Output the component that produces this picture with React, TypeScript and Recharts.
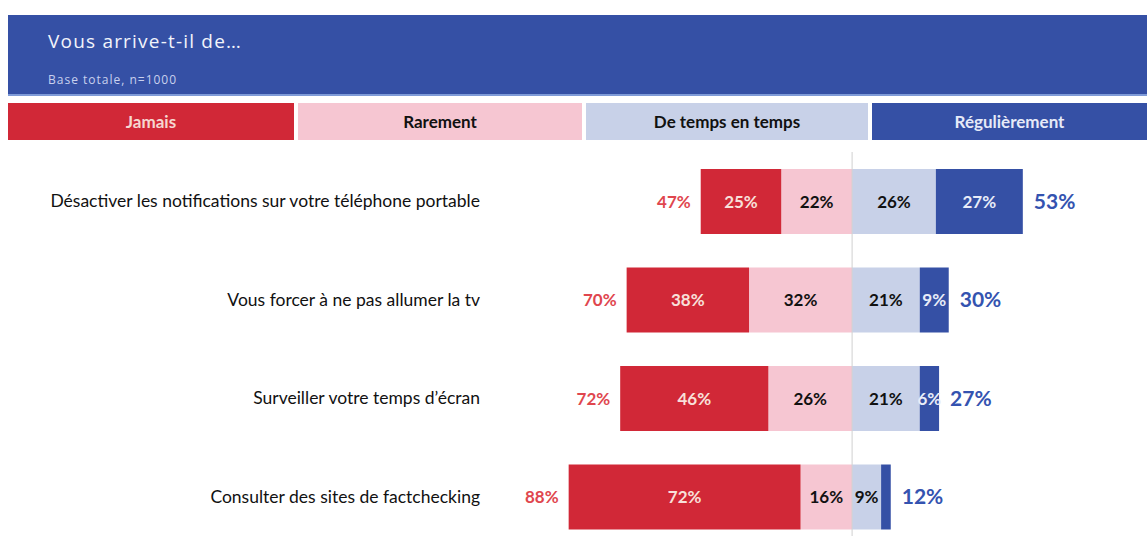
import React from 'react'
import { BarChart, Bar, XAxis, YAxis, ReferenceLine, LabelList } from 'recharts'

const categories = [
  'Désactiver les notifications sur votre téléphone portable',
  'Vous forcer à ne pas allumer la tv',
  'Surveiller votre temps d’écran',
  'Consulter des sites de factchecking',
]
const jamais = [25, 38, 46, 72]
const rarement = [22, 32, 26, 16]
const deTemps = [26, 21, 21, 9]
const regulierement = [27, 9, 6, 3]
const totalNon = [47, 70, 72, 88]
const totalOui = [53, 30, 27, 12]

const RED = '#D12837'
const PINK = '#F6C6D2'
const LIGHT = '#C8D1E8'
const BLUE = '#3550A5'

const legend = [
  { label: 'Jamais', bg: RED, fg: '#F6D7D0', w: 286 },
  { label: 'Rarement', bg: PINK, fg: '#111', w: 284 },
  { label: 'De temps en temps', bg: LIGHT, fg: '#111', w: 282 },
  { label: 'Régulièrement', bg: BLUE, fg: '#E6EAF8', w: 275 },
]

const data = categories.map((name, i) => ({
  name,
  jamais: -jamais[i],
  rarement: -rarement[i],
  deTemps: deTemps[i],
  regulierement: regulierement[i],
  totalNon: totalNon[i],
  totalOui: totalOui[i],
}))

const FONT = 'Lato, "Open Sans", sans-serif'

const inner = (color: string) => (props: any) => {
  const { x, y, width, height, value } = props
  const v = Math.abs(value)
  if (v < 4) return null
  return (
    <text x={x + width / 2} y={y + height / 2} dy={6} textAnchor="middle" fill={color}
      fontFamily={FONT} fontWeight={700} fontSize={17}>{`${v}%`}</text>
  )
}

const leftTotal = (props: any) => {
  const { x, y, width, height, index } = props
  const left = Math.min(x, x + width)
  return (
    <text x={left - 10} y={y + height / 2} dy={6} textAnchor="end" fill="#E0464E"
      fontFamily={FONT} fontWeight={700} fontSize={17}>{`${totalNon[index]}%`}</text>
  )
}

const rightTotal = (props: any) => {
  const { x, y, width, height, index } = props
  const right = Math.max(x, x + width)
  return (
    <text x={right + 11} y={y + height / 2} dy={7} textAnchor="start" fill="#3453B0"
      fontFamily={FONT} fontWeight={700} fontSize={21}>{`${totalOui[index]}%`}</text>
  )
}

export default function App() {
  return (
    <div style={{ position: 'absolute', left: 0, top: 0, width: 1147, height: 536, background: '#fff', overflow: 'hidden', fontFamily: FONT }}>
      <div style={{ position: 'absolute', left: 8, top: 15, width: 1139, height: 79, background: BLUE, borderBottom: '2px solid #7F9BD8' }}>
        <div style={{ position: 'absolute', left: 40, top: 13, color: '#F2F4FB', fontSize: 19, letterSpacing: 1.2, fontFamily: '"Open Sans", sans-serif' }}>
          Vous arrive-t-il de…
        </div>
        <div style={{ position: 'absolute', left: 40, top: 56, color: '#C9D1EE', fontSize: 12, letterSpacing: 1, fontFamily: '"Open Sans", sans-serif' }}>
          Base totale, n=1000
        </div>
      </div>
      <div style={{ position: 'absolute', left: 8, top: 103, width: 1139, height: 37, display: 'flex', gap: 4 }}>
        {legend.map((l) => (
          <div key={l.label} style={{ width: l.w, flex: 'none', background: l.bg, color: l.fg, display: 'flex', alignItems: 'center', justifyContent: 'center', fontWeight: 700, fontSize: 17 }}>
            {l.label}
          </div>
        ))}
      </div>
      <div style={{ position: 'absolute', left: 0, top: 150, width: 1147, height: 386, overflow: 'hidden' }}>
        <BarChart width={1147} height={396} data={data} layout="vertical" stackOffset="sign"
          margin={{ top: 2, right: 5, bottom: 0, left: 0 }} barSize={65}>
          <XAxis type="number" domain={[-100, 90]} hide />
          <YAxis type="category" dataKey="name" width={530} tickLine={false} axisLine={false}
            tickSize={0} tickMargin={50} tick={{ fill: '#111', fontSize: 17.5, fontFamily: FONT }} />
          <Bar dataKey="rarement" stackId="a" fill={PINK} isAnimationActive={false}>
            <LabelList dataKey="rarement" content={inner('#111')} />
          </Bar>
          <Bar dataKey="jamais" stackId="a" fill={RED} isAnimationActive={false}>
            <LabelList dataKey="jamais" content={inner('#F8E0DA')} />
            <LabelList dataKey="totalNon" content={leftTotal} />
          </Bar>
          <Bar dataKey="deTemps" stackId="a" fill={LIGHT} isAnimationActive={false}>
            <LabelList dataKey="deTemps" content={inner('#111')} />
          </Bar>
          <Bar dataKey="regulierement" stackId="a" fill={BLUE} isAnimationActive={false}>
            <LabelList dataKey="regulierement" content={inner('#E8ECF8')} />
            <LabelList dataKey="totalOui" content={rightTotal} />
          </Bar>
          <ReferenceLine x={0} stroke="#D0D0D0" />
        </BarChart>
      </div>
    </div>
  )
}
